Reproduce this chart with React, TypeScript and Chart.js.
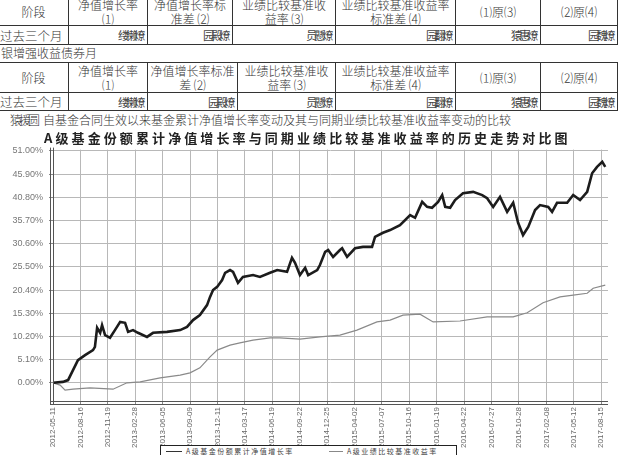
import React, { useEffect, useRef } from "react";
import { Chart, registerables } from "chart.js";
Chart.register(...registerables);

// ---------- data ----------
const xLabels = [
  "2012-05-11", "2012-08-16", "2012-11-19", "2013-02-28", "2013-06-05",
  "2013-09-09", "2013-12-11", "2014-03-17", "2014-06-19", "2014-09-22",
  "2014-12-25", "2015-04-02", "2015-07-07", "2015-10-16", "2016-01-19",
  "2016-04-22", "2016-07-27", "2016-10-28", "2017-02-08", "2017-05-12",
  "2017-08-15",
];
const yTicks = [0, 5.1, 10.2, 15.3, 20.4, 25.5, 30.6, 35.7, 40.8, 45.9, 51.0];

const navIdx = [
  0, 3.6, 5.5, 7.3, 9.1, 11.7, 14.6, 15.3, 16.1, 17.2, 17.9, 19.0, 20.8, 22.6,
  24.5, 26.3, 27.4, 29.2, 31.0, 34.3, 36.5, 41.6, 46.4, 48.9, 51.1, 53.6, 56.2,
  57.3, 58.4, 59.9, 61.7, 62.8, 64.6, 65.7, 67.5, 69.3, 73.0, 75.5, 79.2, 81.8,
  85.4, 87.2, 88.3, 90.1, 92.0, 93.1, 96.4, 97.4, 99.3, 100.4, 102.2, 104.7,
  105.5, 107.3, 110.2, 113.1, 116.4, 117.5, 120.4, 123.0, 126.6, 130.3, 132.1,
  134.7, 136.5, 138.3, 140.5, 142.0, 143.1, 144.9, 146.7, 149.6, 153.3, 156.6,
  158.4, 160.6, 163.1, 165.7, 167.9, 169.7, 171.5, 173.4, 175.9, 177.7, 180.7,
  182.1, 183.9, 187.6, 189.8, 192.3, 194.9, 196.7, 198.5, 200.4, 201.5,
];
const navPct = [
  0, 0.2, 0.6, 2.8, 5.0, 6.1, 7.2, 7.9, 12.1, 11.0, 12.7, 10.5, 9.9, 11.6,
  13.4, 13.2, 11.2, 11.6, 11.0, 10.1, 11.0, 11.2, 11.6, 12.3, 13.8, 14.9, 17.1,
  18.9, 20.4, 21.1, 22.6, 24.2, 24.8, 24.4, 22.0, 23.3, 23.7, 23.3, 24.2, 24.8,
  24.4, 27.5, 26.4, 23.7, 25.3, 23.7, 24.8, 25.9, 28.8, 29.2, 27.7, 29.2,
  29.6, 27.7, 29.6, 29.9, 29.9, 32.1, 33.0, 33.6, 34.7, 36.9, 36.3,
  39.8, 38.7, 38.5, 39.8, 41.3, 38.7, 38.5, 40.2, 41.7, 42.0, 41.3,
  40.6, 38.7, 40.9, 37.6, 39.6, 35.2, 32.5, 34.3, 38.0, 39.1, 38.7,
  37.6, 39.6, 39.6, 41.3, 40.2, 42.0, 46.1, 47.5, 48.6, 47.5,
];

const benchIdx = [
  0, 2.6, 4.4, 7.3, 13.5, 21.9, 27.0, 31.8, 39.1, 46.4, 50.0, 53.6, 57.3, 59.9,
  64.6, 68.2, 73.0, 79.2, 82.8, 90.1, 97.4, 104.7, 110.9, 118.2, 123.0, 127.7,
  133.9, 138.7, 148.5, 158.4, 167.9, 173.0, 178.8, 185.0, 189.8, 194.9, 197.1,
  201.5,
];
const benchPct = [
  0, -0.5, -1.6, -1.4, -1.1, -1.4, 0, 0.2, 1.1, 1.7, 2.2, 3.3, 5.7, 7.2,
  8.3, 8.8, 9.4, 9.9, 9.9, 9.6, 10.1, 10.5, 11.6, 13.4, 13.8, 14.9,
  15.1, 13.4, 13.6, 14.5, 14.5, 15.4, 17.6, 18.9, 19.3, 19.7, 20.8,
  21.5,
];

const seriesNames = ["A级基金份额累计净值增长率", "A级业绩比较基准收益率"];

const header1 = [
  ["阶段"],
  ["净值增长率", "⑴"],
  ["净值增长率标", "准差 ⑵"],
  ["业绩比较基准收", "益率 ⑶"],
  ["业绩比较基准收益率", "标准差 ⑷"],
  ["⑴原⑶"],
  ["⑵原⑷"],
];
const header2 = [
  ["阶段"],
  ["净值增长率", "⑴"],
  ["净值增长率标准", "差 ⑵"],
  ["业绩比较基准收", "益率 ⑶"],
  ["业绩比较基准收益率", "标准差 ⑷"],
  ["⑴原⑶"],
  ["⑵原⑷"],
];
const periodLabel = "过去三个月";
const row1Values = ["缕懒燎", "园殿燎", "员懸燎", "园翻燎", "猿惠燎", "园魏燎"];
const row2Values = ["缕懒燎", "园殿燎", "员懸燎", "园翻燎", "猿惠燎", "园魏燎"];
const subTitle = "银增强收益债券月";
const captionPrefix = "猿援圆";
const captionText = "自基金合同生效以来基金累计净值增长率变动及其与同期业绩比较基准收益率变动的比较";
const chartTitle = "A级基金份额累计净值增长率与同期业绩比较基准收益率的历史走势对比图";

// ---------- layout helpers ----------
const CJK = '"Noto Sans CJK SC", "Noto Sans", sans-serif';
const LINE = "#333";

function Table(props: { top: number; mid: number; bottom: number; cols: number[]; header: string[][]; values: string[] }) {
  const { top, mid, bottom, cols, header, values } = props;
  const left = cols[0];
  const right = cols[cols.length - 1];
  const els: React.ReactNode[] = [];
  // horizontal lines
  [top, mid, bottom].forEach((y, i) =>
    els.push(
      <div key={"h" + i} style={{ position: "absolute", left, top: y, width: right - left + 1, height: 1, background: LINE }} />
    )
  );
  cols.forEach((x, i) =>
    els.push(
      <div key={"v" + i} style={{ position: "absolute", left: x, top, width: 1, height: bottom - top + 1, background: LINE }} />
    )
  );
  header.forEach((lines, i) =>
    els.push(
      <div
        key={"hc" + i}
        style={{
          position: "absolute", left: cols[i] + 1, top: top + 1, width: cols[i + 1] - cols[i] - 1, height: mid - top - 1,
          display: "flex", flexDirection: "column", justifyContent: "center", alignItems: "center",
          fontSize: 12, lineHeight: "14px", color: "#333", fontWeight: 300, whiteSpace: "nowrap",
        }}
      >
        {lines.map((l, j) => (
          <div key={j}>{l}</div>
        ))}
      </div>
    )
  );
  els.push(
    <div
      key="pl"
      style={{
        position: "absolute", left: 0, top: mid + 1, width: cols[1], height: bottom - mid - 1,
        display: "flex", alignItems: "center", fontSize: 12.5, color: "#333", fontWeight: 300, whiteSpace: "nowrap",
      }}
    >
      {periodLabel}
    </div>
  );
  values.forEach((v, i) =>
    els.push(
      <div
        key={"dv" + i}
        style={{
          position: "absolute", left: cols[i + 1] + 1, top: mid + 1, width: cols[i + 2] - cols[i + 1] - 6, height: bottom - mid - 1,
          display: "flex", alignItems: "center", justifyContent: "flex-end", fontSize: 11.5, letterSpacing: -3.5,
          color: "#444", whiteSpace: "nowrap",
        }}
      >
        {v}
      </div>
    )
  );
  return <>{els}</>;
}

const frameLines = {
  id: "frameLines",
  afterDraw(chart: any) {
    const { ctx, chartArea } = chart;
    const { left, right, top, bottom } = chartArea;
    ctx.save();
    ctx.strokeStyle = "#555";
    ctx.lineWidth = 1;
    ctx.beginPath();
    ctx.moveTo(Math.round(left) + 0.5, top - 2);
    ctx.lineTo(Math.round(left) + 0.5, bottom + 4);
    ctx.moveTo(Math.round(left) - 2.5, top - 2);
    ctx.lineTo(Math.round(left) - 2.5, bottom + 4);
    ctx.moveTo(left - 3, Math.round(bottom) + 0.5);
    ctx.lineTo(right, Math.round(bottom) + 0.5);
    ctx.moveTo(left - 3, Math.round(bottom) + 3.5);
    ctx.lineTo(right, Math.round(bottom) + 3.5);
    ctx.stroke();
    ctx.restore();
  },
};

export default function App() {
  const ref = useRef<HTMLCanvasElement>(null);
  useEffect(() => {
    const chart = new Chart(ref.current as HTMLCanvasElement, {
      type: "line",
      data: {
        datasets: [
          {
            label: seriesNames[0],
            data: navIdx.map((x, i) => ({ x, y: navPct[i] })),
            borderColor: "#1c1c1c",
            borderWidth: 2.6,
            pointRadius: 0,
            tension: 0,
          },
          {
            label: seriesNames[1],
            data: benchIdx.map((x, i) => ({ x, y: benchPct[i] })),
            borderColor: "#8a8a8a",
            borderWidth: 1.2,
            pointRadius: 0,
            tension: 0,
          },
        ],
      },
      options: {
        animation: false,
        responsive: true,
        maintainAspectRatio: false,
        layout: { padding: { top: 21.6, right: 10, left: 0, bottom: 0 } },
        plugins: { legend: { display: false }, tooltip: { enabled: false } },
        scales: {
          x: {
            type: "linear",
            min: 0,
            max: 202.5,
            afterBuildTicks: (s: any) => {
              s.ticks = xLabels.map((_, i) => ({ value: i * 10 }));
            },
            afterFit: (s: any) => {
              s.height = 54;
            },
            ticks: {
              autoSkip: false,
              minRotation: 90,
              maxRotation: 90,
              padding: 2,
              color: "#666",
              font: { size: 8, family: '"Liberation Sans", Arial, sans-serif' },
              callback: (v: any) => xLabels[Math.round(Number(v) / 10)] ?? "",
            },
            grid: { color: "#b8b8b8", lineWidth: 1, tickLength: 4, tickColor: "#888" },
            border: { display: false },
          },
          y: {
            min: -4,
            max: 51.3,
            afterBuildTicks: (s: any) => {
              s.ticks = yTicks.map((v) => ({ value: v }));
            },
            afterFit: (s: any) => {
              s.width = 53;
            },
            ticks: {
              padding: 6,
              color: "#777",
              font: { size: 9, family: '"Liberation Sans", Arial, sans-serif' },
              callback: (v: any) => Number(v).toFixed(2) + "%",
            },
            grid: { color: "#b8b8b8", lineWidth: 1, tickLength: 4, tickColor: "#888" },
            border: { display: false },
          },
        },
      },
      plugins: [frameLines],
    });
    return () => chart.destroy();
  }, []);

  const cols1 = [-2, 68, 147, 232, 335, 455, 540, 617];
  const cols2 = [-2, 68, 147, 237, 335, 455, 540, 617];

  return (
    <div style={{ position: "fixed", left: 0, top: 0, width: 618, height: 455, overflow: "hidden", background: "#fff", fontFamily: CJK }}>
      <Table top={-2} mid={25} bottom={44} cols={cols1} header={header1} values={row1Values} />
      <div style={{ position: "absolute", left: 1, top: 45, fontSize: 12, lineHeight: "16px", color: "#333", fontWeight: 300, whiteSpace: "nowrap" }}>
        {subTitle}
      </div>
      <Table top={62} mid={92} bottom={110} cols={cols2} header={header2} values={row2Values} />
      <div style={{ position: "absolute", left: 10, top: 112, fontSize: 12, lineHeight: "16px", color: "#333", fontWeight: 300, whiteSpace: "nowrap" }}>
        <span style={{ letterSpacing: -3, marginRight: 6 }}>{captionPrefix}</span>
        {captionText}
      </div>
      <div style={{ position: "absolute", left: 0, top: 128, width: 618, height: 327 }}>
        <canvas ref={ref} />
      </div>
      <div style={{ position: "absolute", left: 44, top: 130, fontSize: 13, lineHeight: "16px", fontWeight: 700, letterSpacing: 3.1, color: "#222", whiteSpace: "nowrap" }}>
        {chartTitle}
      </div>
      <div style={{ position: "absolute", left: 160, top: 445, width: 295, height: 18, border: "1.5px solid #222", background: "#fff" }}>
        <div style={{ position: "absolute", left: 5, top: 5, width: 16, height: 1, background: "#333" }} />
        <div style={{ position: "absolute", left: 25, top: 0, fontSize: 7, lineHeight: "11px", letterSpacing: 1.5, color: "#444", whiteSpace: "nowrap" }}>
          {seriesNames[0]}
        </div>
        <div style={{ position: "absolute", left: 168, top: 5, width: 14, height: 1, background: "#888" }} />
        <div style={{ position: "absolute", left: 186, top: 0, fontSize: 7, lineHeight: "11px", letterSpacing: 1.5, color: "#444", whiteSpace: "nowrap" }}>
          {seriesNames[1]}
        </div>
      </div>
    </div>
  );
}
